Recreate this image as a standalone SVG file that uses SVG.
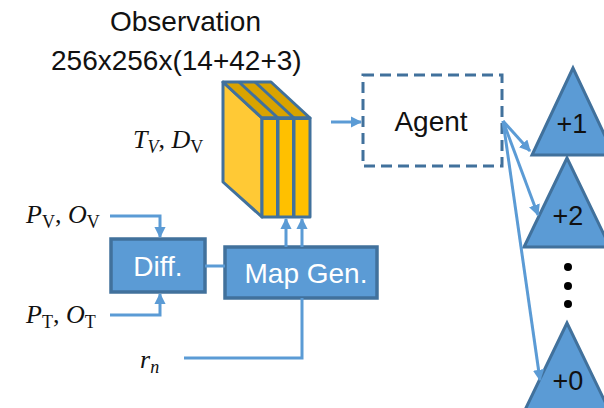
<svg xmlns="http://www.w3.org/2000/svg" width="604" height="408" viewBox="0 0 604 408">
  <style>
    .lbl { font-family: "Liberation Sans", Arial, sans-serif; font-size: 28px; fill: #111; }
    .box { fill: #5B9BD5; stroke: #41719C; stroke-width: 3.5; }
    .boxtxt { font-family: "Liberation Sans", Arial, sans-serif; font-size: 28px; fill: #fff; text-anchor: middle; }
    .tri { fill: #5B9BD5; stroke: #41719C; stroke-width: 3; stroke-linejoin: miter; }
    .tritxt { font-family: "Liberation Sans", Arial, sans-serif; font-size: 27px; fill: #111; text-anchor: middle; }
    .math { font-family: "Liberation Serif", "Times New Roman", serif; font-size: 26px; fill: #111; }
    .it { font-style: italic; }
    .sub { font-size: 18px; }
    .conn { fill: none; stroke: #5B9BD5; stroke-width: 3; }
    .edge { stroke: #41719C; stroke-width: 3; stroke-linejoin: round; }
  </style>
  <defs>
    <marker id="arrow" viewBox="0 0 10 10" refX="9" refY="5" markerWidth="3.8" markerHeight="3.8" orient="auto" markerUnits="strokeWidth">
      <path d="M0,0 L10,5 L0,10 z" fill="#5B9BD5"/>
    </marker>
  </defs>

  <rect width="604" height="408" fill="#fff"/>

  <!-- title over the observation stack -->
  <g id="observation-title">
    <text class="lbl" x="110" y="31">Observation</text>
    <text class="lbl" x="51" y="70">256x256x(14+42+3)</text>
  </g>

  <!-- observation tensor drawn as a 3-channel slab -->
  <g id="observation">
    <polygon points="223,82 262,118 262,217 223,182" fill="#FFC935" class="edge"/>
    <polygon points="223,82 271,82 310,118 262,118" fill="#D9A300" class="edge"/>
    <line x1="239" y1="82" x2="278" y2="118" class="edge"/>
    <line x1="255" y1="82" x2="294" y2="118" class="edge"/>
    <rect x="262" y="118" width="48" height="99" fill="#41719C" class="edge"/>
    <rect x="263.5" y="120" width="12.5" height="95.5" fill="#FFC000"/>
    <rect x="279.5" y="120" width="12.5" height="95.5" fill="#FFC000"/>
    <rect x="295.5" y="120" width="13" height="95.5" fill="#FFC000"/>
  </g>

  <g id="label-tv-dv">
    <text class="math" x="133" y="148"><tspan class="it">T</tspan><tspan class="sub it" dy="5">V</tspan><tspan dy="-5">, </tspan><tspan class="it">D</tspan><tspan class="sub" dy="5">V</tspan></text>
  </g>
  <g id="label-pv-ov">
    <text class="math" x="26" y="223"><tspan class="it">P</tspan><tspan class="sub" dy="5">V</tspan><tspan dy="-5">, </tspan><tspan class="it">O</tspan><tspan class="sub" dy="5">V</tspan></text>
  </g>
  <g id="label-pt-ot">
    <text class="math" x="26" y="323"><tspan class="it">P</tspan><tspan class="sub" dy="5">T</tspan><tspan dy="-5">, </tspan><tspan class="it">O</tspan><tspan class="sub" dy="5">T</tspan></text>
  </g>
  <g id="label-rn">
    <text class="math" x="140" y="368"><tspan class="it">r</tspan><tspan class="sub it" dy="5">n</tspan></text>
  </g>

  <g id="diff">
    <rect class="box" x="111" y="239" width="94" height="53"/>
    <text class="boxtxt" x="158" y="276">Diff.</text>
  </g>

  <g id="map-gen">
    <rect class="box" x="225" y="247" width="152" height="51"/>
    <text class="boxtxt" x="306" y="283">Map Gen.</text>
  </g>

  <g id="agent">
    <rect x="363" y="75" width="139" height="91" fill="none" stroke="#41719C" stroke-width="3" stroke-dasharray="11 6"/>
    <text class="lbl" x="431" y="131" text-anchor="middle">Agent</text>
  </g>

  <g id="reward-plus1">
    <polygon class="tri" points="573,68 532,155 614,155"/>
    <text class="tritxt" x="572" y="133">+1</text>
  </g>
  <g id="reward-plus2">
    <polygon class="tri" points="567,158 524,247 610,247"/>
    <text class="tritxt" x="568" y="225">+2</text>
  </g>
  <g id="ellipsis">
    <circle cx="568" cy="267" r="4" fill="#000"/>
    <circle cx="568" cy="286" r="4" fill="#000"/>
    <circle cx="568" cy="304" r="4" fill="#000"/>
  </g>
  <g id="reward-plus0">
    <polygon class="tri" points="567,323 524,412 610,412"/>
    <text class="tritxt" x="568" y="390">+0</text>
  </g>

  <g id="connectors">
    <path class="conn" d="M110,216 H160 V237" marker-end="url(#arrow)"/>
    <path class="conn" d="M110,315 H160 V294" marker-end="url(#arrow)"/>
    <path class="conn" d="M205,266 H225"/>
    <path class="conn" d="M184,358 H302 V298"/>
    <path class="conn" d="M286,247 V219" marker-end="url(#arrow)"/>
    <path class="conn" d="M302,247 V219" marker-end="url(#arrow)"/>
    <path class="conn" d="M331,122 H361" marker-end="url(#arrow)"/>
    <path class="conn" d="M503,121 L530,151" marker-end="url(#arrow)"/>
    <path class="conn" d="M503,121 L538,215" marker-end="url(#arrow)"/>
    <path class="conn" d="M503,121 L540,380" marker-end="url(#arrow)"/>
  </g>
</svg>
